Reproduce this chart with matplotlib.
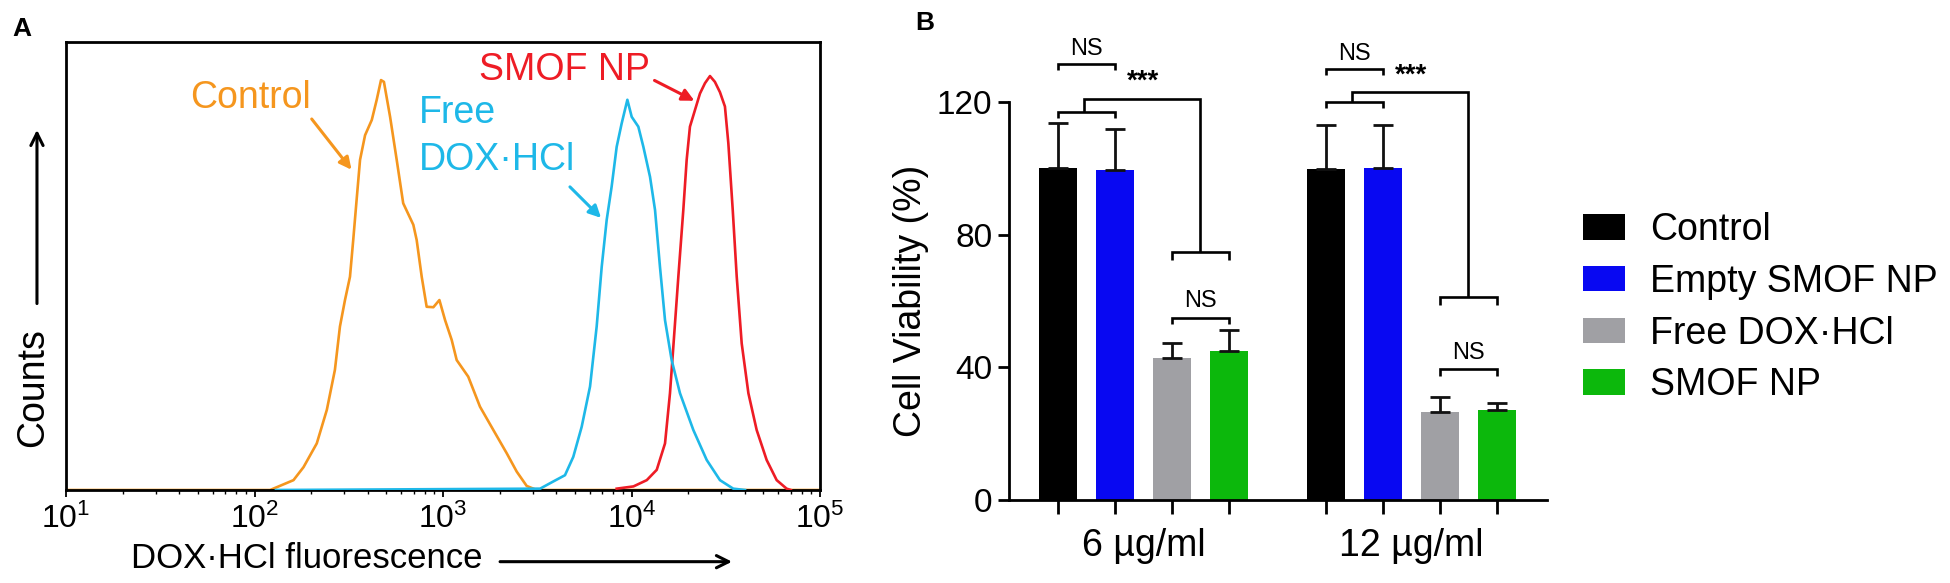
import matplotlib
matplotlib.use('Agg')
import matplotlib.pyplot as plt
from matplotlib.patches import Patch

plt.rcParams['font.family'] = ['Liberation Sans', 'DejaVu Sans']
plt.rcParams['mathtext.fontset'] = 'custom'
plt.rcParams['mathtext.rm'] = 'Liberation Sans'
plt.rcParams['mathtext.it'] = 'Liberation Sans:italic'
plt.rcParams['mathtext.bf'] = 'Liberation Sans:bold'

# ---------------- Panel A data (flow cytometry histograms) ----------------
control_fl = [10, 100, 121, 136, 161, 182, 214, 242, 267, 284, 302, 321, 334, 348, 363,
              386, 419, 445, 469, 486, 524, 568, 615, 696, 725, 771, 819, 889, 957, 1026,
              1112, 1182, 1361, 1571, 1849, 2178, 2461, 2780, 3143, 100000]
control_counts = [0, 0, 0, 0.9, 2.2, 5.1, 10.4, 17.9, 26.8, 36.5, 42.4, 47.6, 55.8, 64.7, 73.7,
                  79.2, 82.6, 87.1, 91.5, 91.1, 83.3, 73.7, 64.0, 59.2, 55.8, 47.6, 40.9, 40.8, 42.4, 37.9,
                  33.5, 29.0, 25.3, 18.6, 13.4, 8.2, 4.1, 0.9, 0, 0]

free_fl = [130, 3275, 3845, 4437, 4911, 5441, 6026, 6535, 6949, 7386, 7845, 8343, 8866, 9507,
           10024, 10870, 11560, 12540, 13330, 14160, 15060, 16330, 18080, 21280, 25060, 29460,
           34640, 40000]
free_counts = [0, 0.3, 1.9, 3.3, 7.4, 14.1, 23.1, 36.5, 49.8, 60.3, 67.7, 76.6, 81.8, 87.1,
               83.3, 81.1, 76.6, 69.9, 62.5, 49.8, 37.9, 29.0, 21.6, 13.4, 6.7, 2.2, 0.3, 0]

smof_fl = [8343, 10240, 12050, 13610, 15060, 16000, 16670, 17720, 18830, 19620, 20420, 21710,
           23080, 24530, 26080, 27700, 29460, 31310, 32640, 34440, 36160, 38430, 41700, 46130,
           52120, 58910, 66530, 70000]
smof_counts = [0.3, 0.8, 2.2, 4.5, 10.4, 21.6, 32.0, 47.6, 62.5, 73.7, 81.1, 84.8, 88.5, 90.8,
               92.4, 91.1, 88.8, 85.6, 77.4, 62.5, 47.6, 32.7, 21.6, 13.4, 6.7, 2.2, 0.3, 0]

hist_colors = ['#F5961E', '#1EB8E8', '#EE1C25']

# ---------------- Panel B data (cell viability) ----------------
conc_labels = ['6 µg/ml', '12 µg/ml']
groups = ['Control', 'Empty SMOF NP', 'Free DOX·HCl', 'SMOF NP']
bar_colors = ['#000000', '#0808F2', '#A0A0A4', '#0CB80C']
viability_6 = [100.0, 99.5, 42.8, 45.0]
err_6 = [13.7, 12.5, 4.4, 6.3]
viability_12 = [99.8, 100.2, 26.6, 27.0]
err_12 = [13.2, 13.0, 4.6, 2.2]
# significance annotation heights (top NS, pair bracket, *** connector, low bracket, low NS)
sig_6 = [131.4, 117.1, 120.9, 74.9, 55.0]
sig_12 = [129.8, 120.1, 122.9, 61.1, 39.4]

W, H = 1950, 583
fig = plt.figure(figsize=(W / 100, H / 100), dpi=100)

# ================= Panel A =================
axA = fig.add_axes([66 / W, 1 - 490 / H, 754 / W, 448 / H])
axA.plot(control_fl, control_counts, color=hist_colors[0], lw=1.9, zorder=2)
axA.plot(smof_fl, smof_counts, color=hist_colors[2], lw=1.9, zorder=3)
axA.plot(free_fl, free_counts, color=hist_colors[1], lw=1.9, zorder=4)
axA.set_xscale('log')
axA.set_xlim(10, 1e5)
axA.set_ylim(0, 100)
axA.set_yticks([])
for s in axA.spines.values():
    s.set_linewidth(2.0)
axA.tick_params(axis='x', which='major', direction='out', length=5, width=1.3,
                labelsize=23, pad=5)
axA.tick_params(axis='x', which='minor', direction='out', length=3, width=1.0)

# annotations
axA.text(95.7, 87.5, 'Control', color=hist_colors[0], fontsize=27, ha='center', va='center')
axA.annotate('', xy=(334, 71.0), xytext=(197, 83.3),
             arrowprops=dict(arrowstyle='-|>', color=hist_colors[0], lw=2.2, mutation_scale=18))
axA.text(746, 84.2, 'Free', color=hist_colors[1], fontsize=27, ha='left', va='center')
axA.text(746, 73.6, 'DOX·HCl', color=hist_colors[1], fontsize=27, ha='left', va='center')
axA.annotate('', xy=(7063, 60.3), xytext=(4603, 68.1),
             arrowprops=dict(arrowstyle='-|>', color=hist_colors[1], lw=2.2, mutation_scale=18))
axA.text(12540, 93.7, 'SMOF NP', color=hist_colors[2], fontsize=27, ha='right', va='center')
axA.annotate('', xy=(22230, 86.6), xytext=(12850, 91.7),
             arrowprops=dict(arrowstyle='-|>', color=hist_colors[2], lw=2.2, mutation_scale=18))

# axis titles with arrows
axA.text(-0.044, 0.228, 'Counts', rotation=90, transform=axA.transAxes,
         ha='center', va='center', fontsize=27)
axA.annotate('', xy=(-0.0385, 0.81), xytext=(-0.0385, 0.41), xycoords='axes fraction',
             textcoords='axes fraction', annotation_clip=False,
             arrowprops=dict(arrowstyle='->', lw=2.2, color='black', mutation_scale=22))
axA.text(0.086, -0.152, 'DOX·HCl fluorescence', transform=axA.transAxes,
         ha='left', va='center', fontsize=25)
axA.annotate('', xy=(0.887, -0.16), xytext=(0.572, -0.16), xycoords='axes fraction',
             textcoords='axes fraction', annotation_clip=False,
             arrowprops=dict(arrowstyle='->', lw=2.2, color='black', mutation_scale=22))

fig.text(22 / W, 1 - 29 / H, 'A', fontsize=19, fontweight='bold', ha='center', va='center')

# ================= Panel B =================
axB = fig.add_axes([1009 / W, 1 - 500 / H, 538 / W, 398 / H])
group_offsets = [0.0, 4.7]
width = 0.667
all_pos = []
for g, vals, errs in zip(group_offsets, [viability_6, viability_12], [err_6, err_12]):
    pos = [g + i for i in range(len(groups))]
    all_pos += pos
    for i, (p, v, e) in enumerate(zip(pos, vals, errs)):
        axB.bar(p, v, width=width, color=bar_colors[i], edgecolor='none', zorder=2,
                label=groups[i] if g == 0 else None)
        axB.errorbar(p, v, yerr=[[0], [e]], fmt='none', ecolor='#111111',
                     elinewidth=2.0, capsize=7, capthick=2.0, zorder=3, clip_on=False)

axB.set_xlim(-0.86, 8.58)
axB.set_ylim(0, 120)
axB.spines['top'].set_visible(False)
axB.spines['right'].set_visible(False)
axB.spines['left'].set_linewidth(2.0)
axB.spines['bottom'].set_linewidth(2.0)
axB.set_yticks([0, 40, 80, 120])
axB.tick_params(axis='y', direction='out', length=8, width=2.0, labelsize=24, pad=4)
axB.set_xticks(all_pos)
axB.set_xticklabels([''] * len(all_pos))
axB.tick_params(axis='x', which='major', direction='out', length=10, width=2.0)
centers = [g + 1.5 for g in group_offsets]
axB.set_xticks(centers, minor=True)
axB.set_xticklabels(conc_labels, minor=True)
axB.tick_params(axis='x', which='minor', length=0, labelsize=27, pad=20)
axB.set_ylabel('Cell Viability (%)', fontsize=27, va='center')
axB.yaxis.set_label_coords(-0.182, 0.5)


def line(xs, ys):
    axB.plot(xs, ys, color='black', lw=1.9, clip_on=False, zorder=4,
             solid_capstyle='butt', solid_joinstyle='miter')


def bracket(x1, x2, y, h):
    line([x1, x1, x2, x2], [y - h, y, y, y - h])


for g, s in zip(group_offsets, [sig_6, sig_12]):
    top_ns, pair_y, conn_y, low_y, low_ns = s
    bracket(g + 0, g + 1, top_ns, 1.8)
    axB.text(g + 0.5, top_ns + 1.4, 'NS', ha='center', va='bottom', fontsize=17,
             clip_on=False)
    bracket(g + 0, g + 1, pair_y, 1.8)
    line([g + 0.45, g + 0.45, g + 2.5, g + 2.5], [pair_y, conn_y, conn_y, low_y])
    bracket(g + 2, g + 3, low_y, 2.4)
    axB.text(g + 1.5, conn_y + 1.2, '***', ha='center', va='bottom', fontsize=20,
             fontweight='bold', clip_on=False)
    bracket(g + 2, g + 3, low_ns, 2.0)
    axB.text(g + 2.5, low_ns + 1.6, 'NS', ha='center', va='bottom', fontsize=17)

fig.text(925 / W, 1 - 23 / H, 'B', fontsize=19, fontweight='bold', ha='center', va='center')

handles = [Patch(facecolor=c, edgecolor='none') for c in bar_colors]
fig.legend(handles, groups, loc='upper left', bbox_to_anchor=(1583 / W, 1 - 212 / H),
           frameon=False, fontsize=27, handlelength=1.12, handleheight=0.67,
           handletextpad=0.67, labelspacing=0.42, borderpad=0, borderaxespad=0)

fig.savefig('out.png', dpi=100)
